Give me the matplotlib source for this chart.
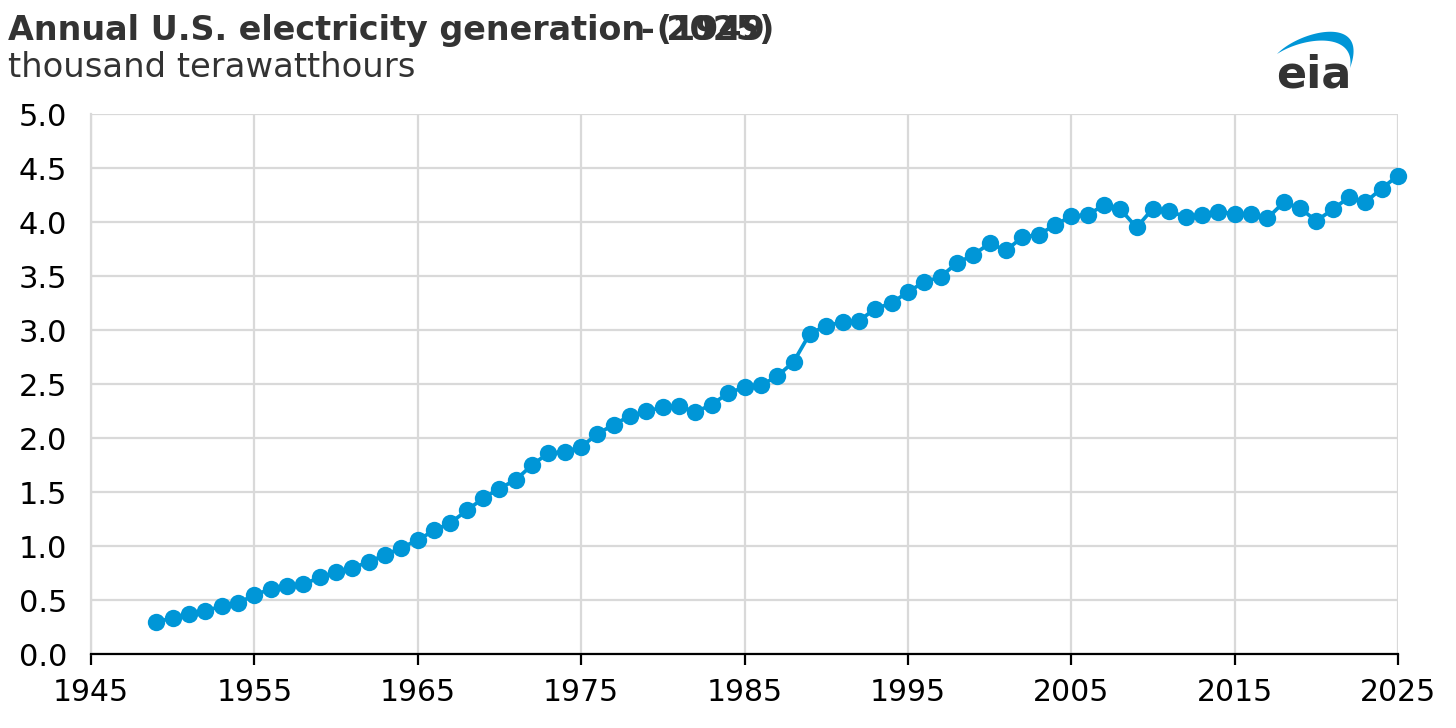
import numpy as np
import matplotlib
matplotlib.use("Agg")
import matplotlib.pyplot as plt

# annual net generation, thousand TWh
years = list(range(1949, 2026))
generation = [
    0.296, 0.334, 0.371, 0.399, 0.443, 0.472, 0.547, 0.601, 0.632, 0.645,
    0.710, 0.756, 0.794, 0.855, 0.917, 0.984, 1.055, 1.144, 1.214, 1.329,
    1.442, 1.532, 1.613, 1.750, 1.861, 1.870, 1.918, 2.038, 2.124, 2.206,
    2.247, 2.286, 2.295, 2.241, 2.310, 2.416, 2.470, 2.487, 2.572, 2.704,
    2.967, 3.038, 3.074, 3.084, 3.197, 3.248, 3.353, 3.444, 3.492, 3.620,
    3.695, 3.802, 3.737, 3.858, 3.883, 3.971, 4.055, 4.065, 4.157, 4.119,
    3.950, 4.125, 4.100, 4.048, 4.066, 4.094, 4.078, 4.077, 4.034, 4.181,
    4.128, 4.010, 4.116, 4.230, 4.183, 4.310, 4.430,
]
x_ticks = list(range(1945, 2026, 10))
y_ticks = [0.0, 0.5, 1.0, 1.5, 2.0, 2.5, 3.0, 3.5, 4.0, 4.5, 5.0]

BLUE = "#0096d7"
DARK = "#333333"
GRID = "#d9d9d9"

plt.rcParams['font.family'] = ['DejaVu Sans']

W, H = 1456, 728
fig = plt.figure(figsize=(W / 100, H / 100), dpi=100)
ax = fig.add_axes([91 / W, 1 - 654 / H, (1398 - 91) / W, (654 - 114) / H])

ax.plot(years, generation, color=BLUE, lw=2.7, marker="o", ms=12.5,
        markeredgewidth=0, zorder=3, clip_on=False)

ax.set_xlim(1945, 2025)
ax.set_ylim(0, 5)
ax.set_xticks(x_ticks)
ax.set_yticks(y_ticks)
ax.set_yticklabels([f"{v:.1f}" for v in y_ticks])
ax.grid(True, color=GRID, lw=1.6, zorder=0)
ax.set_axisbelow(True)

for side in ("top", "right"):
    ax.spines[side].set_visible(False)
ax.spines["left"].set_color(GRID)
ax.spines["left"].set_linewidth(1.6)
ax.spines["bottom"].set_color("black")
ax.spines["bottom"].set_linewidth(1.6)

ax.tick_params(axis="y", length=0, labelsize=22, pad=17, colors="black")
ax.tick_params(axis="x", length=8, width=1.6, labelsize=21.5, pad=9, colors="black")

# title (two overlapping pieces, as in the source)
fig.text(8 / W, 1 - 40 / H, "Annual U.S. electricity generation (1949",
         fontsize=24, fontweight="bold", color=DARK, ha="left", va="baseline")
fig.text(641 / W, 1 - 40 / H, "- 2025)",
         fontsize=24, fontweight="bold", color=DARK, ha="left", va="baseline")
fig.text(8 / W, 1 - 77 / H, "thousand terawatthours",
         fontsize=24.3, color=DARK, ha="left", va="baseline")

# eia logo, drawn in pixel coordinates
lax = fig.add_axes([1265 / W, 1 - 95 / H, 100 / W, 75 / H])
lax.set_xlim(1265, 1365)
lax.set_ylim(95, 20)
lax.axis("off")


def bezier(p0, p1, p2, p3, n=60):
    t = np.linspace(0, 1, n)[:, None]
    pts = ((1 - t) ** 3) * np.array(p0) + 3 * ((1 - t) ** 2) * t * np.array(p1) \
        + 3 * (1 - t) * t ** 2 * np.array(p2) + t ** 3 * np.array(p3)
    return pts


outer = bezier((1277, 54), (1300, 30), (1370, 14), (1350, 68))
inner = bezier((1350, 68), (1356, 32), (1305, 36), (1277, 54))
swoosh = np.vstack([outer, inner])
lax.fill(swoosh[:, 0], swoosh[:, 1], color=BLUE, lw=0)
lax.text(1276, 87, "eia", fontsize=32, fontweight="bold", color=DARK,
         ha="left", va="baseline")

fig.savefig("out.png", dpi=100)
